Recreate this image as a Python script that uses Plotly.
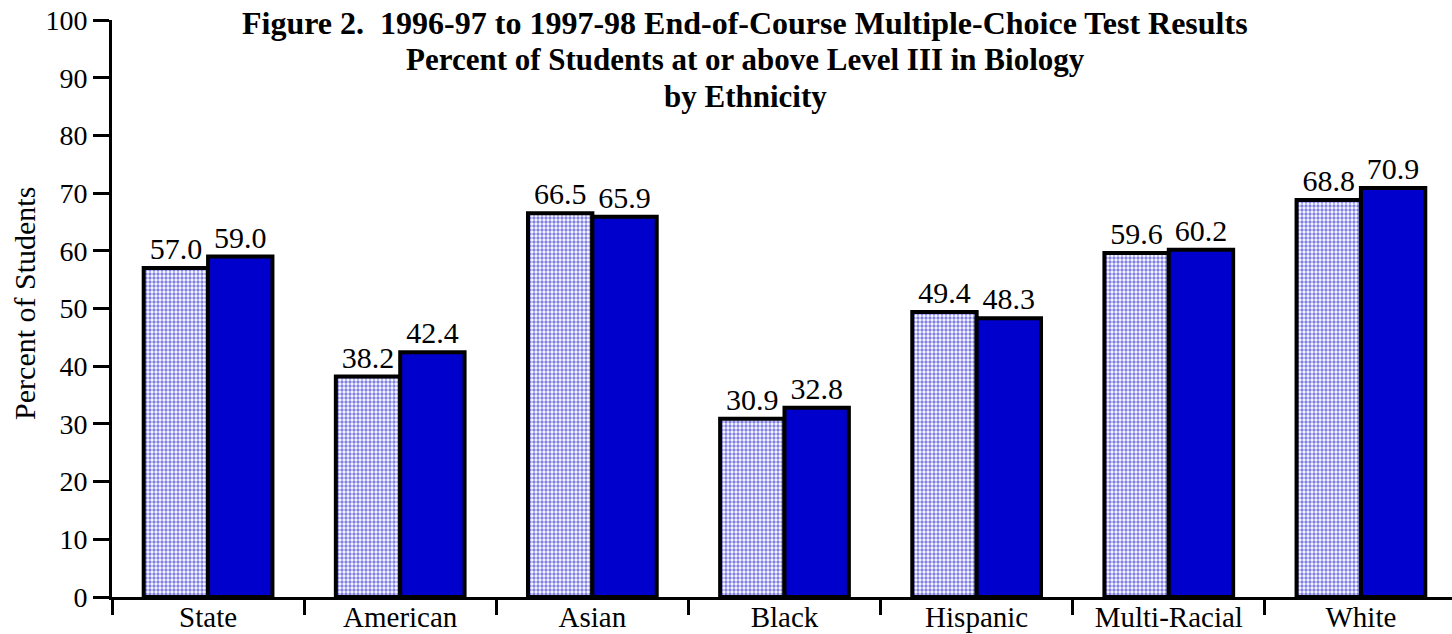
import plotly.graph_objects as go

categories = ["State", "American", "Asian", "Black", "Hispanic", "Multi-Racial", "White"]
values_9697 = [57.0, 38.2, 66.5, 30.9, 49.4, 59.6, 68.8]
values_9798 = [59.0, 42.4, 65.9, 32.8, 48.3, 60.2, 70.9]
y_ticks = [0, 10, 20, 30, 40, 50, 60, 70, 80, 90, 100]
title_lines = [
    "Figure 2.  1996-97 to 1997-98 End-of-Course Multiple-Choice Test Results",
    "Percent of Students at or above Level III in Biology",
    "by Ethnicity",
]

FONT = "Liberation Serif, Times New Roman, serif"

fig = go.Figure()
fig.add_trace(go.Bar(
    x=categories, y=values_9697, name="1996-97",
    marker=dict(color="white", line=dict(color="black", width=4),
                pattern=dict(shape=".", fgcolor="#0000cc", bgcolor="white",
                             size=4, solidity=0.55)),
    text=[f"{v:.1f}" for v in values_9697], textposition="outside",
    textfont=dict(family=FONT, size=30, color="black"), cliponaxis=False,
))
fig.add_trace(go.Bar(
    x=categories, y=values_9798, name="1997-98",
    marker=dict(color="#0000cc", line=dict(color="black", width=4)),
    text=[f"{v:.1f}" for v in values_9798], textposition="outside",
    textfont=dict(family=FONT, size=30, color="black"), cliponaxis=False,
))

fig.update_layout(
    width=1452, height=634,
    margin=dict(l=112, r=0, t=20, b=37, autoexpand=False),
    paper_bgcolor="white", plot_bgcolor="white",
    barmode="group", bargap=0.33, bargroupgap=0,
    showlegend=False,
    font=dict(family=FONT, size=28, color="black"),
)
fig.update_xaxes(
    range=[-0.5, 6.474], showline=True, linecolor="black", linewidth=3,
    ticks="outside", tickson="boundaries", ticklen=15, tickwidth=3, tickcolor="black",
    showgrid=False, zeroline=False, tickfont=dict(family=FONT, size=29),
    automargin=False, ticklabelstandoff=-8, ticklabeloverflow="allow",
)
fig.update_yaxes(
    range=[0, 100], tickvals=y_ticks, showline=True, linecolor="black", linewidth=3,
    ticks="outside", ticklen=16, tickwidth=3, tickcolor="black",
    showgrid=False, zeroline=False, tickfont=dict(family=FONT, size=28),
    automargin=False, ticklabeloverflow="allow",
)

for line, yc, fs in zip(title_lines, [0.9945, 0.931, 0.868], [32, 31, 31]):
    fig.add_annotation(
        text=f"<b>{line}</b>",
        xref="paper", yref="paper", x=0.4724, y=yc, xanchor="center", yanchor="middle",
        showarrow=False, font=dict(family=FONT, size=fs, color="black"),
    )
fig.add_annotation(
    text="Percent of Students", textangle=-90,
    xref="paper", yref="paper", x=-0.0649, y=0.508, xanchor="center", yanchor="middle",
    showarrow=False, font=dict(family=FONT, size=30, color="black"),
)

fig.write_html("out.html", config={"displayModeBar": False},
               post_script="document.body.style.margin='0px';")
